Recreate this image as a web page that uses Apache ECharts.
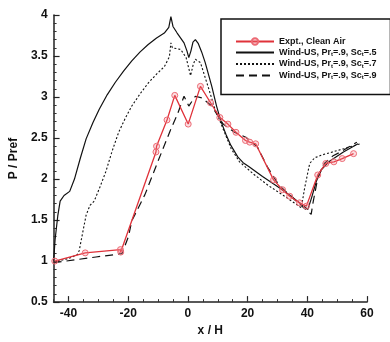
<!DOCTYPE html>
<html>
<head>
<meta charset="utf-8">
<script src="https://cdn.jsdelivr.net/npm/echarts@6/dist/echarts.min.js"></script>
<style>
  html, body { margin: 0; padding: 0; background: #fff; }
  #chart { width: 390px; height: 342px; }
</style>
</head>
<body>
<div id="chart"></div>
<script>
// x / H ticks
var xMajorTicks = [-40, -20, 0, 20, 40, 60]

// experiment, clean air
var exptData = [
  [-44.6, 1.0], [-34.4, 1.10], [-22.6, 1.14], [-22.5, 1.11], [-10.7, 2.33], [-10.5, 2.40],
  [-7.0, 2.72], [-4.4, 3.02], [0.1, 2.67], [4.2, 3.13], [7.6, 2.93], [10.7, 2.75],
  [13.4, 2.67], [16.1, 2.57], [19.3, 2.47], [20.7, 2.45], [22.7, 2.43], [28.7, 1.99],
  [31.7, 1.87], [34.1, 1.79], [37.4, 1.71], [39.7, 1.67], [43.5, 2.05], [46.2, 2.19],
  [48.9, 2.21], [51.7, 2.25], [55.5, 2.31]
]

// Wind-US, Sc_t = .5
var sc5Data = [
  [-45, 1.0], [-44.8, 1.1], [-44.5, 1.26], [-43.6, 1.55], [-42.8, 1.73], [-41.5, 1.80],
  [-39.6, 1.85], [-38, 2.0], [-36, 2.26], [-34.1, 2.49], [-31.8, 2.69], [-29.7, 2.85],
  [-27, 3.03], [-24.3, 3.18], [-21.5, 3.32], [-18.8, 3.44], [-16, 3.55], [-13.3, 3.64],
  [-10.5, 3.72], [-7.9, 3.78], [-6.4, 3.85], [-5.7, 3.98], [-5.0, 3.86], [-3.6, 3.78],
  [-1.3, 3.66], [-0.3, 3.56], [0.3, 3.48], [1.0, 3.56], [1.7, 3.67], [2.5, 3.70],
  [3.5, 3.65], [4.6, 3.55], [5.8, 3.42], [8, 3.13], [9.6, 2.89], [11.1, 2.70],
  [12.8, 2.54], [14.4, 2.41], [16.7, 2.27], [18.5, 2.20], [20.5, 2.15], [25, 2.03],
  [30, 1.91], [35, 1.78], [40.2, 1.63], [41.5, 1.78], [43, 1.97], [44.6, 2.11],
  [47.2, 2.21], [52.1, 2.33], [57, 2.43]
]

// Wind-US, Sc_t = .7
var sc7Data = [
  [-45, 0.99], [-40, 1.03], [-37, 1.08], [-36.4, 1.13], [-35.5, 1.30], [-34.1, 1.56],
  [-32.8, 1.68], [-31.4, 1.73], [-29.5, 1.90], [-27.5, 2.09], [-25.3, 2.35], [-23.2, 2.57],
  [-21, 2.74], [-18.8, 2.89], [-16, 3.04], [-13.3, 3.17], [-10.5, 3.28], [-7.9, 3.37],
  [-6.2, 3.49], [-5.7, 3.66], [-5.2, 3.60], [-2.4, 3.58], [-0.6, 3.48], [0.9, 3.26],
  [1.8, 3.40], [2.5, 3.46], [4.2, 3.42], [6.9, 3.11], [9.1, 2.85], [10.7, 2.71],
  [14.5, 2.37], [17.3, 2.21], [22, 2.06], [27, 1.92], [32, 1.80], [38, 1.65],
  [39.1, 1.89], [40.8, 2.19], [42.5, 2.26], [44.6, 2.29], [52.2, 2.37], [57.7, 2.43]
]

// Wind-US, Sc_t = .9
var sc9Data = [
  [-45, 0.98], [-30.8, 1.05], [-22.1, 1.09], [-19.9, 1.30], [-18.8, 1.49], [-14.4, 1.81],
  [-10.1, 2.21], [-5.7, 2.61], [-3.5, 2.79], [-1.3, 3.01], [0.3, 2.89], [2.5, 3.01],
  [4.7, 2.99], [8, 2.89], [11.8, 2.67], [15.6, 2.57], [19.4, 2.51], [23.3, 2.39],
  [26.6, 2.15], [30.4, 1.93], [36.9, 1.71], [41.3, 1.57], [41.9, 1.71], [43.5, 2.01],
  [45.7, 2.19], [48.5, 2.28], [52.1, 2.35], [56.6, 2.45]
]

var legendLabels = {
  'Expt., Clean Air': '{a|Expt., Clean Air}',
  'Sc5': '{a|Wind-US, Pr}{s|t}{a|=.9, Sc}{s|t}{a|=.5}',
  'Sc7': '{a|Wind-US, Pr}{s|t}{a|=.9, Sc}{s|t}{a|=.7}',
  'Sc9': '{a|Wind-US, Pr}{s|t}{a|=.9, Sc}{s|t}{a|=.9}'
}

var chart = echarts.init(document.getElementById('chart'))
var font = 'Liberation Sans, Arial, sans-serif'
var red = '#e0323a'

chart.setOption({
  animation: false,
  grid: { left: 48, right: 23, top: 15, bottom: 37 },
  legend: {
    orient: 'vertical',
    left: 221,
    top: 19,
    padding: [18, 14, 14, 14],
    itemGap: 2,
    itemWidth: 38,
    itemHeight: 8,
    backgroundColor: '#fff',
    borderColor: '#111',
    borderWidth: 1.5,
    data: [
      { name: 'Expt., Clean Air' },
      { name: 'Sc5', itemStyle: { opacity: 0 } },
      { name: 'Sc7', itemStyle: { opacity: 0 } },
      { name: 'Sc9', itemStyle: { opacity: 0 } }
    ],
    formatter: function (name) { return legendLabels[name] },
    textStyle: {
      rich: {
        a: { fontFamily: font, fontWeight: 'bold', fontSize: 9, color: '#111' },
        s: { fontFamily: font, fontWeight: 'bold', fontSize: 6, color: '#111', verticalAlign: 'bottom', padding: [4, 0, 0, 0] }
      }
    }
  },
  xAxis: [
    {
      type: 'value',
      min: -45,
      max: 60,
      name: 'x / H',
      nameLocation: 'middle',
      nameGap: 20,
      nameTextStyle: { fontFamily: font, fontWeight: 'bold', fontSize: 12, color: '#111' },
      axisLine: { show: true, onZero: false, lineStyle: { color: '#222', width: 1.5 } },
      axisTick: { inside: true, length: 6, customValues: xMajorTicks, lineStyle: { color: '#222', width: 1.2 } },
      axisLabel: { customValues: xMajorTicks, margin: 6, fontFamily: font, fontWeight: 'bold', fontSize: 12, color: '#111' },
      splitLine: { show: false }
    },
    {
      type: 'value',
      min: -45,
      max: 60,
      interval: 5,
      position: 'bottom',
      axisLine: { show: false, onZero: false },
      axisTick: { inside: true, length: 3, lineStyle: { color: '#333', width: 1 } },
      axisLabel: { show: false },
      splitLine: { show: false }
    }
  ],
  yAxis: {
    type: 'value',
    min: 0.5,
    max: 4,
    interval: 0.5,
    name: 'P / Pref',
    nameLocation: 'middle',
    nameRotate: 90,
    nameGap: 26,
    nameTextStyle: { fontFamily: font, fontWeight: 'bold', fontSize: 12, color: '#111' },
    axisLine: { show: true, onZero: false, lineStyle: { color: '#222', width: 1.5 } },
    axisTick: { inside: true, length: 6, lineStyle: { color: '#222', width: 1.2 } },
    minorTick: { show: true, splitNumber: 5, length: 3, lineStyle: { color: '#333', width: 1 } },
    axisLabel: {
      margin: 6,
      fontFamily: font,
      fontWeight: 'bold',
      fontSize: 12,
      color: '#111',
      formatter: function (v) { return String(v) }
    },
    splitLine: { show: false }
  },
  series: [
    {
      type: 'line',
      name: 'Sc5',
      data: sc5Data,
      symbol: 'none',
      color: '#111',
      lineStyle: { color: '#111', width: 1.2, type: 'solid' },
      z: 2
    },
    {
      type: 'line',
      name: 'Sc7',
      data: sc7Data,
      symbol: 'none',
      color: '#111',
      lineStyle: { color: '#111', width: 1.1, type: [2, 2] },
      z: 2
    },
    {
      type: 'line',
      name: 'Sc9',
      data: sc9Data,
      symbol: 'none',
      color: '#111',
      lineStyle: { color: '#111', width: 1.2, type: [8, 5] },
      z: 2
    },
    {
      type: 'line',
      name: 'Expt., Clean Air',
      data: exptData,
      symbol: 'circle',
      symbolSize: 6,
      color: red,
      lineStyle: { color: red, width: 1.3 },
      itemStyle: { color: 'rgba(240,120,130,0.25)', borderColor: '#ec6a74', borderWidth: 1 },
      z: 3
    }
  ]
})
</script>
</body>
</html>
